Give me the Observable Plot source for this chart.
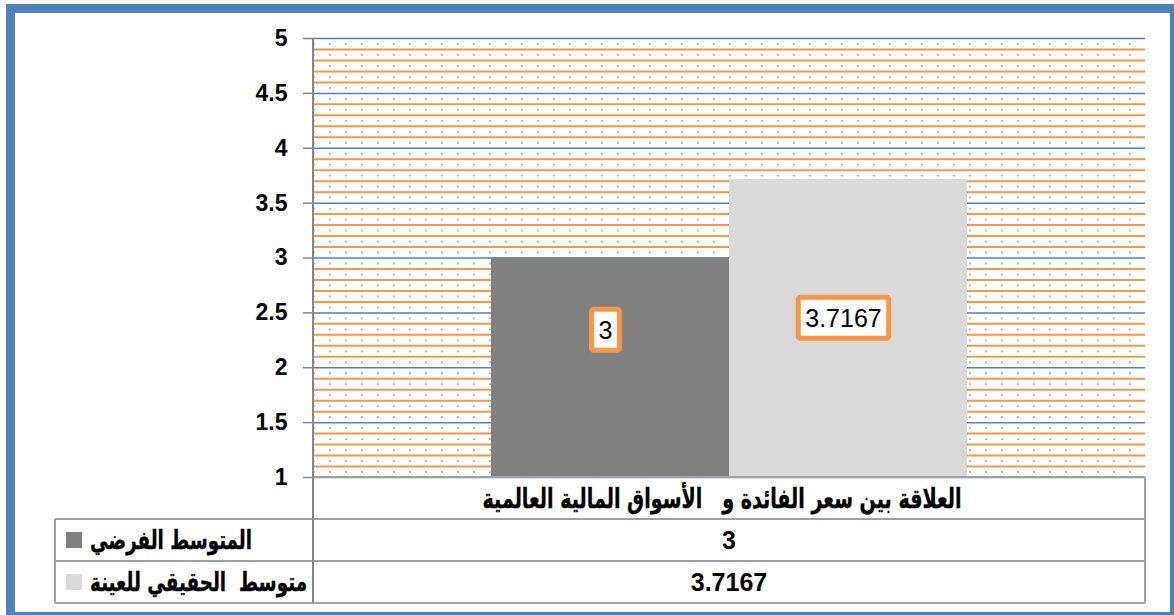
<!DOCTYPE html>
<html><head><meta charset="utf-8">
<script src="https://cdn.jsdelivr.net/npm/d3@7"></script>
<script src="https://cdn.jsdelivr.net/npm/@observablehq/plot@0.6"></script>
<style>
html,body{margin:0;padding:0;background:#fff;overflow:hidden}
svg{display:block}
.ar{white-space:pre}
</style>
</head><body><div id="chart"></div>
<script>
// ---- data ----
const category = "العلاقة بين سعر الفائدة و   الأسواق المالية العالمية";
const seriesNames = ["المتوسط الفرضي", "متوسط  الحقيقي للعينة"];
const seriesValues = [3, 3.7167];
const valueLabels = ["3", "3.7167"];
const seriesColors = ["#808080", "#d9d9d9"];
const yTicks = [1, 1.5, 2, 2.5, 3, 3.5, 4, 4.5, 5];

const data = seriesNames.map((name, i) => ({name, value: seriesValues[i], label: valueLabels[i]}));

// gridline sets (decoration of the plot area)
const orangeLines = d3.range(10, 51).filter(i => i % 5 !== 0).map(i => i / 10);
const dotRows = d3.range(10, 50).map(i => (i + 0.5) / 10);

const latin = "'Liberation Sans', Arial, sans-serif";
const arabic = "'DejaVu Sans', sans-serif";

const chart = Plot.plot({
  width: 1174, height: 615,
  marginLeft: 313, marginRight: 29, marginTop: 38, marginBottom: 138,
  style: {fontFamily: latin, background: "#fff", color: "#000"},
  x: {domain: seriesNames, paddingInner: 0, paddingOuter: 0.744, axis: null},
  y: {domain: [1, 5], axis: null},
  color: {domain: seriesNames, range: seriesColors},
  marks: [
    Plot.ruleY(dotRows, {stroke: "#9aaecb", strokeWidth: 1.8, strokeDasharray: "1.8,14.2"}),
    Plot.ruleY(orangeLines, {stroke: "#f79646", strokeWidth: 2}),
    Plot.ruleY(yTicks, {stroke: "#4f81bd", strokeWidth: 1.5}),
    Plot.barY(data, {x: "name", y1: yTicks[0], y2: "value", fill: "name"}),
    Plot.axisY(yTicks, {label: null, tickSize: 10, tickPadding: 16, fontSize: 23, fontWeight: "bold", stroke: "#868686", fill: "#000", strokeWidth: 1.5, tickFormat: d => String(d)}),
    Plot.text([data[0]], {x: "name", y: () => 2.4, text: "label", fontSize: 25, dx: -5, dy: 7, fill: "#000", className: "vlabel"}),
    Plot.text([data[1]], {x: "name", y: () => 2.4, text: "label", fontSize: 25, dx: -5, dy: -5, fill: "#000", className: "vlabel"})
  ]
});
document.getElementById("chart").appendChild(chart);

// ---- label boxes ----
const svg = d3.select(chart);
svg.selectAll("g.vlabel text").each(function() {
  const b = this.getBBox();
  d3.select(this.parentNode).insert("rect", () => this)
    .attr("transform", this.getAttribute("transform"))
    .attr("x", b.x - 7).attr("y", b.y - 6.5)
    .attr("width", b.width + 14).attr("height", b.height + 13)
    .attr("rx", 2).attr("fill", "#fff").attr("stroke", "#f79646").attr("stroke-width", 5);
});

// ---- data table below the plot ----
const [xL, xR] = chart.scale("x").range;
const yr = chart.scale("y").range; // [bottom, top]
const yBase = yr[0], yTop = yr[1];
const rowH = 42, tableLeft = 55;
const rows = [yBase, yBase + rowH, yBase + 2 * rowH, yBase + 3 * rowH];
const grid = svg.append("g").attr("stroke", "#a0a0a0").attr("stroke-width", 2);
grid.append("line").attr("x1", xL).attr("x2", xR).attr("y1", rows[0]).attr("y2", rows[0]);
for (let r = 1; r < 4; r++) grid.append("line").attr("x1", tableLeft).attr("x2", xR).attr("y1", rows[r]).attr("y2", rows[r]);
grid.append("line").attr("x1", tableLeft).attr("x2", tableLeft).attr("y1", rows[1]).attr("y2", rows[3]);
grid.append("line").attr("x1", xR).attr("x2", xR).attr("y1", rows[0]).attr("y2", rows[3]);
grid.append("line").attr("x1", xL).attr("x2", xL).attr("y1", yTop).attr("y2", rows[3]).attr("stroke", "#868686");

const xc = (xL + xR) / 2;
function fitText(sel, w) {
  sel.attr("textLength", w).attr("lengthAdjust", "spacingAndGlyphs");
}
const cat = svg.append("text").attr("class", "ar")
  .attr("x", xc - 7).attr("y", (rows[0] + rows[1]) / 2).attr("dy", "0.36em")
  .attr("text-anchor", "middle").attr("font-family", arabic).attr("font-weight", "bold").attr("font-size", 27)
  .attr("stroke", "#000").attr("stroke-width", 0.4)
  .text(category);
fitText(cat, 479);

const keyWidths = [162, 217];
seriesNames.forEach((name, i) => {
  const cy = (rows[i + 1] + rows[i + 2]) / 2;
  svg.append("rect").attr("x", 66).attr("y", cy - 8).attr("width", 16).attr("height", 16).attr("fill", seriesColors[i]);
  const t = svg.append("text").attr("class", "ar")
    .attr("x", 90).attr("y", cy).attr("dy", "0.36em").attr("direction", "ltr")
    .attr("text-anchor", "start").attr("font-family", arabic).attr("font-weight", "bold").attr("font-size", 26)
    .attr("stroke", "#000").attr("stroke-width", 0.4)
    .text(name);
  fitText(t, keyWidths[i]);
  svg.append("text").attr("x", xc).attr("y", cy).attr("dy", "0.36em")
    .attr("text-anchor", "middle").attr("font-family", latin).attr("font-weight", "bold").attr("font-size", 25)
    .text(valueLabels[i]);
});

// ---- outer frame ----
svg.append("rect").attr("x", 10.5).attr("y", 8.5).attr("width", 1164).attr("height", 608)
  .attr("fill", "none").attr("stroke", "#4f81bd").attr("stroke-width", 9);
</script>
</body></html>
